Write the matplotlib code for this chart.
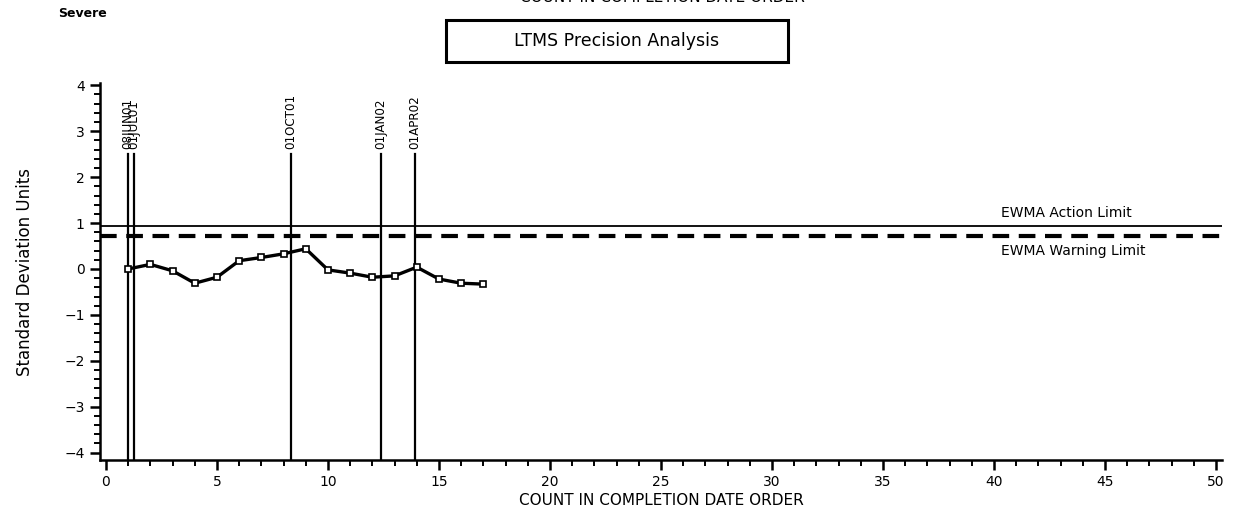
import matplotlib

matplotlib.use("Agg")
import matplotlib.pyplot as plt
from matplotlib.patches import Rectangle
from matplotlib.ticker import MultipleLocator

# EWMA values in completion order
counts = list(range(1, 18))
ewma = [0.00, 0.10, -0.04, -0.31, -0.18, 0.18, 0.25, 0.33, 0.44,
        -0.02, -0.09, -0.18, -0.15, 0.04, -0.22, -0.31, -0.33]

# date markers (position on count axis, label)
marker_pos = [1.0, 1.27, 8.33, 12.4, 13.9]
marker_labels = ["08JUN01", "01JUL01", "01OCT01", "01JAN02", "01APR02"]

action_limit = 0.94
warning_limit = 0.71

SANS = ["DejaVu Sans"]

fig = plt.figure(figsize=(12.45, 5.08), dpi=100)
ax = fig.add_axes([0.0803, 0.0945, 0.9012, 0.7421])

ax.axhline(action_limit, color="black", lw=1.3)
ax.axhline(warning_limit, color="black", lw=3, dashes=(4, 2.3))

for x, lab in zip(marker_pos, marker_labels):
    ax.plot([x, x], [-4.16, 2.5], color="black", lw=1.6)
    ax.text(x, 2.62, lab, rotation=90, ha="center", va="bottom",
            fontsize=9.5, family=SANS, fontstretch="condensed")

ax.plot(counts, ewma, color="black", lw=2.4, marker="s", ms=5,
        mfc="white", mec="black", mew=1.2)

ax.text(40.3, 1.22, "EWMA Action Limit", fontsize=10, family=SANS,
        va="center", ha="left")
ax.text(40.3, 0.39, "EWMA Warning Limit", fontsize=10, family=SANS,
        va="center", ha="left")

ax.set_xlim(-0.27, 50.27)
ax.set_ylim(-4.16, 4.05)
ax.xaxis.set_major_locator(MultipleLocator(5))
ax.xaxis.set_minor_locator(MultipleLocator(1))
ax.yaxis.set_major_locator(MultipleLocator(1))
ax.yaxis.set_minor_locator(MultipleLocator(0.2))
ax.tick_params(which="major", length=7, width=1.8, labelsize=10, pad=4)
ax.tick_params(which="minor", length=4, width=1.4)
for s in ["top", "right"]:
    ax.spines[s].set_visible(False)
for s in ["left", "bottom"]:
    ax.spines[s].set_linewidth(1.8)

ax.set_xlabel("COUNT IN COMPLETION DATE ORDER", fontsize=11, family=SANS,
              labelpad=3)
ax.set_ylabel("Standard Deviation Units", fontsize=12, family=SANS,
              labelpad=22)

fig.text(0.047, 0.974, "Severe", fontsize=9, fontweight="bold",
         va="center", ha="left")
fig.text(0.532, 1.004, "COUNT IN COMPLETION DATE ORDER", fontsize=11,
         ha="center", va="center")
fig.add_artist(Rectangle((446 / 1245, 1 - 62 / 508), 342 / 1245, 42 / 508,
                         transform=fig.transFigure, fill=False,
                         edgecolor="black", lw=2.2))
fig.text(617 / 1245, 1 - 41 / 508, "LTMS Precision Analysis", fontsize=12.5,
         ha="center", va="center")

fig.savefig("out.png", dpi=100)
